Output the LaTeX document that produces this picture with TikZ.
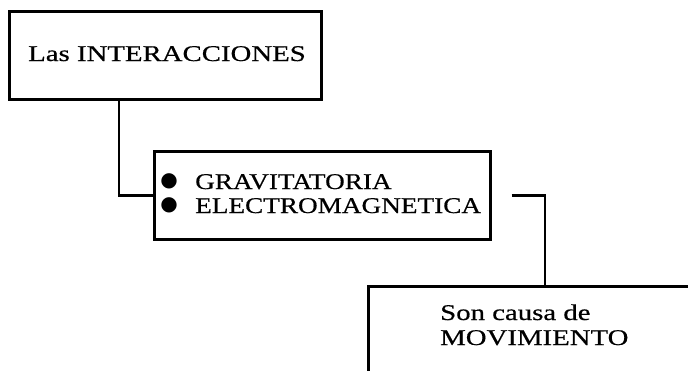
\documentclass[tikz,border=0pt]{standalone}
\usepackage{fontspec}
\setmainfont{Liberation Serif}[FakeStretch=1.28, FakeBold=0.5]
\newfontfamily\narrowfont{Liberation Serif}[FakeStretch=1.21, FakeBold=0.5]
\newfontfamily\bulletfont{DejaVu Sans}
\begin{document}
\begin{tikzpicture}[x=1pt,y=-1pt,
  box/.style={draw, line width=2.6pt, rectangle, inner sep=0pt, anchor=north west},
  txt/.style={font=\fontsize{22.5}{25}\selectfont, inner sep=0pt, anchor=base west},
  txtn/.style={font=\narrowfont\fontsize{22.5}{25}\selectfont, inner sep=0pt, anchor=base west},
  bul/.style={font=\bulletfont\fontsize{20}{20}\selectfont, inner sep=0pt, anchor=center},
  link/.style={line width=2.6pt}]
\useasboundingbox (0,0) rectangle (688,370);
\clip (0,0) rectangle (688,370);
\node[box, minimum width=312pt, minimum height=88pt] (b1) at (8,10) {};
\node[txt] (t1) at (28,61) {Las INTERACCIONES};
\node[box, minimum width=336pt, minimum height=88pt] (b2) at (153,150) {};
\node[bul] (p1) at (169,181) {●};
\node[bul] (p2) at (169,205) {●};
\node[txtn] (t2a) at (195,189) {GRAVITATORIA};
\node[txtn] (t2b) at (195,213) {ELECTROMAGNETICA};
\node[box, minimum width=360pt, minimum height=120pt] (b3) at (367,285) {};
\node[txt] (t3a) at (440,320) {Son causa de};
\node[txt] (t3b) at (440,345) {MOVIMIENTO};
\draw[link] ([xshift=111pt]b1.south west) |- (b2.west);
\coordinate (c2) at ([xshift=20pt]b2.east);
\draw[link] (c2) -| ([xshift=178pt]b3.north west);
\end{tikzpicture}
\end{document}
